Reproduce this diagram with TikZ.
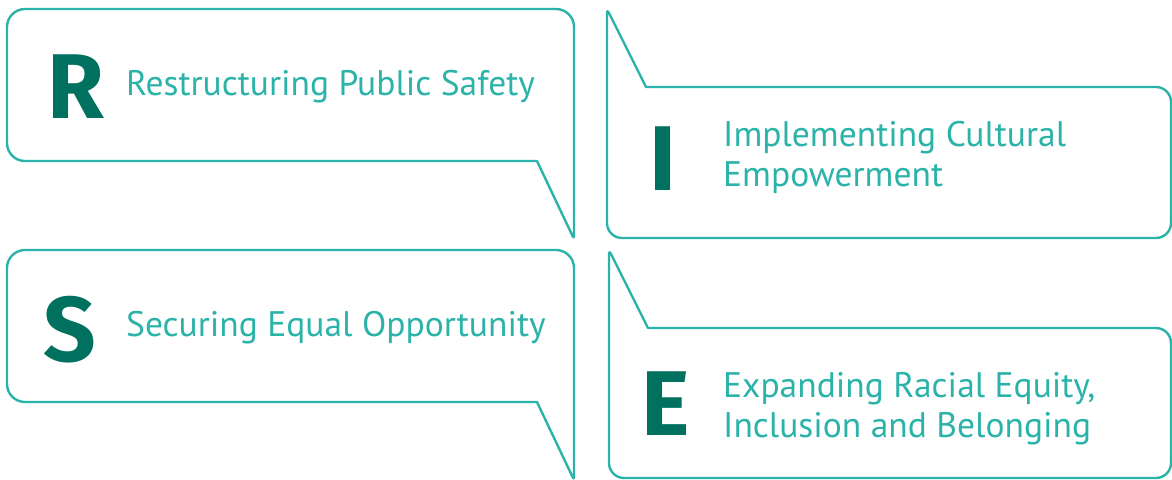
\documentclass[tikz,border=0pt]{standalone}
\usepackage{fontspec}
\setmainfont{PT Sans}
\newfontfamily\capfont{Fira Sans}
\usetikzlibrary{positioning}
\definecolor{lightteal}{HTML}{2BB3A9}
\definecolor{darkteal}{HTML}{00715F}
\tikzset{
  bubble/.style={draw=lightteal, line width=2.4pt, line join=round},
  initial/.style={text=darkteal, inner sep=0pt, font=\capfont\bfseries\fontsize{92}{92}\selectfont},
  caption/.style={text=lightteal, inner sep=0pt, align=left,
    font=\fontsize{35.5}{40}\selectfont}
}

\begin{document}
\begin{tikzpicture}[x=1pt,y=-1pt]
\useasboundingbox (0,0) rectangle (1172,479);

% left bubbles, tail at the lower right
\foreach \dy in {0,241} {
  \draw[bubble] (537,161+\dy) [rounded corners=18] -- (7,161+\dy) -- (7,9+\dy)
    -- (574,9+\dy) [rounded corners=3] -- (574,239+\dy) [sharp corners] -- cycle;
}
% right bubbles, tail at the upper left
\draw[bubble] (646,87) [rounded corners=15] -- (1171,87) -- (1171,238) -- (607,238)
  [rounded corners=4] -- (607,9) [sharp corners] -- cycle;
\draw[bubble] (648,328) [rounded corners=15] -- (1171,328) -- (1171,478) -- (609,478)
  [rounded corners=4] -- (609,250) [sharp corners] -- cycle;

\node[initial, anchor=base west] (r) at (47,118) {R};
\node[initial, anchor=base west] (i) at (649,190) {I};
\node[initial, anchor=base west] (s) at (43,361) {S};
\node[initial, anchor=base west] (e) at (641,435) {E};

% base of a two-line caption is its last line
\node[caption, anchor=base west] (safety) at (126,95) {Restructuring Public Safety};
\node[caption, anchor=base west] (culture) at (723,186) {Implementing Cultural\\Empowerment};
\node[caption, anchor=base west] (opportunity) at (126,336) {Securing Equal Opportunity};
\node[caption, anchor=base west] (equity) at (723,437) {Expanding Racial Equity,\\Inclusion and Belonging};
\end{tikzpicture}
\end{document}
